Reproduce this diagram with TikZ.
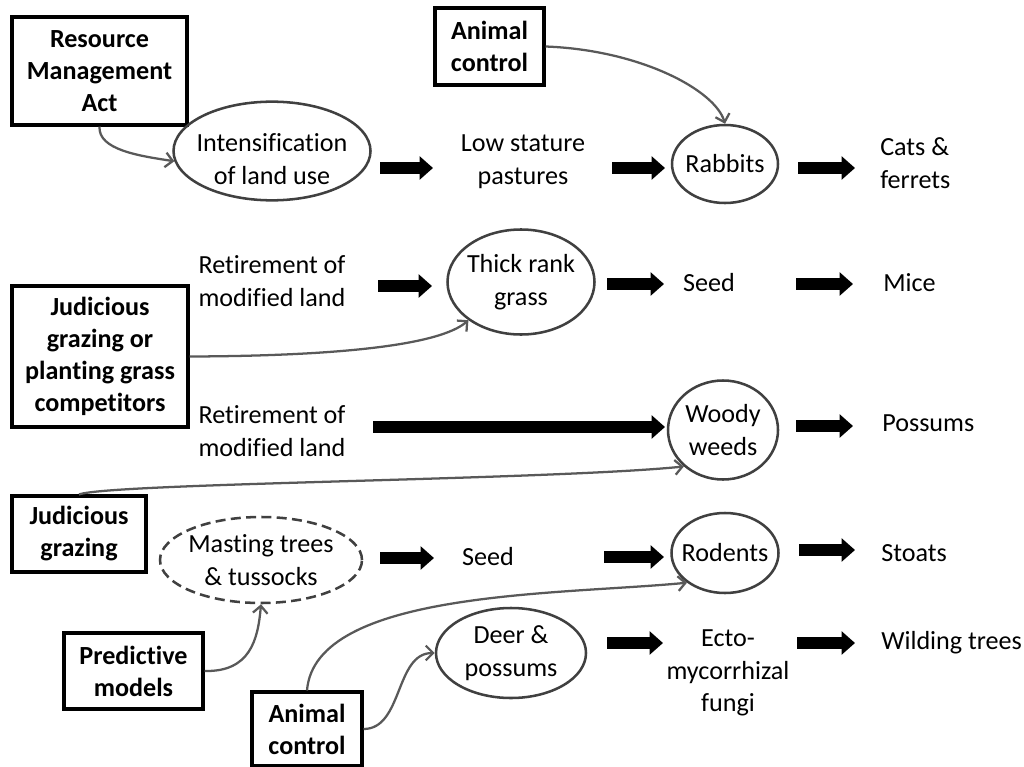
\documentclass[tikz,border=0pt]{standalone}
\usepackage{fontspec}
\setmainfont{Carlito}[Ligatures=NoCommon]
\usetikzlibrary{arrows.meta,shapes.geometric}
\begin{document}
\begin{tikzpicture}[x=0.75pt,y=-0.75pt,
  txt/.style={font=\fontsize{19.6}{24.5}\selectfont, inner sep=0pt, align=center},
  bx/.style={draw=black, line width=2.3pt, font=\bfseries\fontsize{19.6}{24}\selectfont, align=center, inner sep=0pt},
  ell/.style={ellipse, draw=black!75, line width=1.9pt, inner sep=-12pt, font=\fontsize{19.6}{24.5}\selectfont, align=center},
  fat/.style={line width=9pt, -{Triangle[length=10pt,width=17pt]}},
  con/.style={draw=black!65, line width=1.7pt, -{Straight Barb[length=5.5pt,width=11pt]}}
]
\useasboundingbox (0,0) rectangle (1024,767);

% boxes
\node[bx, minimum width=131.25pt, minimum height=81pt] (rma) at (99.5,71) {Resource\\Management\\Act};
\node[bx, minimum width=81.75pt, minimum height=57.75pt] (ac1) at (489.5,46.5) {Animal\\control};
\node[bx, minimum width=132pt, minimum height=105.75pt] (jgp) at (100,356.5) {Judicious\\grazing or\\planting grass\\competitors};
\node[bx, minimum width=100.5pt, minimum height=57pt] (jg) at (79,534) {Judicious\\grazing};
\node[bx, minimum width=104.25pt, minimum height=57pt] (pm) at (133.5,671) {Predictive\\models};
\node[bx, minimum width=82.5pt, minimum height=55.5pt] (ac2) at (307,729) {Animal\\control};

% ellipses
\node[ell, minimum width=147.75pt, minimum height=74pt] (int) at (272,151) {\rule{0pt}{26pt}Intensification\\of land use};
\node[ell, minimum width=79.5pt, minimum height=58.5pt] (rab) at (725,164) {Rabbits};
\node[ell, minimum width=110.25pt, minimum height=78.75pt] (thick) at (521,282) {Thick rank\\grass};
\node[ell, minimum width=82.5pt, minimum height=74.25pt] (woody) at (723,430) {Woody\\weeds};
\node[ell, dashed, dash pattern=on 7.5pt off 4pt, minimum width=151.5pt, minimum height=64.5pt] (mast) at (261,560) {Masting trees\\\& tussocks};
\node[ell, minimum width=80.25pt, minimum height=60pt] (rod) at (725,553) {Rodents};
\node[ell, minimum width=112.5pt, minimum height=67.5pt] (deer) at (511,653) {Deer \&\\possums};

% plain texts
\node[txt] (low) at (523,162) {Low stature\\pastures};
\node[txt, anchor=west, align=left] (cats) at (880,163) {Cats \&\\ferrets};
\node[txt] (ret1) at (272,281) {Retirement of\\modified land};
\node[txt] (seed1) at (709,283) {Seed};
\node[txt, anchor=west] (mice) at (883,283) {Mice};
\node[txt] (ret2) at (272,431) {Retirement of\\modified land};
\node[txt, anchor=west] (poss) at (882,423) {Possums};
\node[txt] (seed2) at (488,557) {Seed};
\node[txt, anchor=west] (stoats) at (881,553) {Stoats};
\node[txt] (ecto) at (728,673) {Ecto-\\mycorrhizal\\fungi};
\node[txt, anchor=west] (wild) at (881,643) {Wilding trees};

% fat arrow end points
\coordinate (a1s) at (380,168); \coordinate (a1e) at (433,168);
\coordinate (a2s) at (612,168); \coordinate (a2e) at (665,168);
\coordinate (a3s) at (798,168); \coordinate (a3e) at (855,168);
\coordinate (b1s) at (378,286); \coordinate (b1e) at (432,286);
\coordinate (b2s) at (607,284); \coordinate (b2e) at (664,284);
\coordinate (b3s) at (796,284); \coordinate (b3e) at (853,284);
\coordinate (c1s) at (373,427); \coordinate (c1e) at (665,427);
\coordinate (c2s) at (796,426); \coordinate (c2e) at (853,426);
\coordinate (d1s) at (380,558); \coordinate (d1e) at (434,558);
\coordinate (d2s) at (604,557); \coordinate (d2e) at (664,557);
\coordinate (d3s) at (799,550); \coordinate (d3e) at (855,550);
\coordinate (e1s) at (607,643); \coordinate (e1e) at (663,643);
\coordinate (e2s) at (797,643); \coordinate (e2e) at (855,643);

\foreach \p in {a1,a2,a3,b1,b2,b3,c1,c2,d1,d2,d3,e1,e2}
  \draw[fat] (\p s) -- (\p e);

% thin connectors
\draw[con] (rma.south) .. controls (98,150) and (140,156) .. (int.186);
\draw[con] (ac1.east) .. controls (640,50) and (715,90) .. (rab.north);
\draw[con] (jgp.east) .. controls (340,356) and (440,345) .. (thick.216);
\draw[con] (jg.north) .. controls (110,483) and (550,480) .. (woody.223);
\draw[con] (pm.east) .. controls (250,672) and (258,640) .. (mast.south);
\draw[con] (ac2.north) .. controls (315,590) and (560,595) .. (rod.218);
\draw[con] (ac2.east) .. controls (403,729) and (395,653) .. (deer.west);
\end{tikzpicture}
\end{document}
